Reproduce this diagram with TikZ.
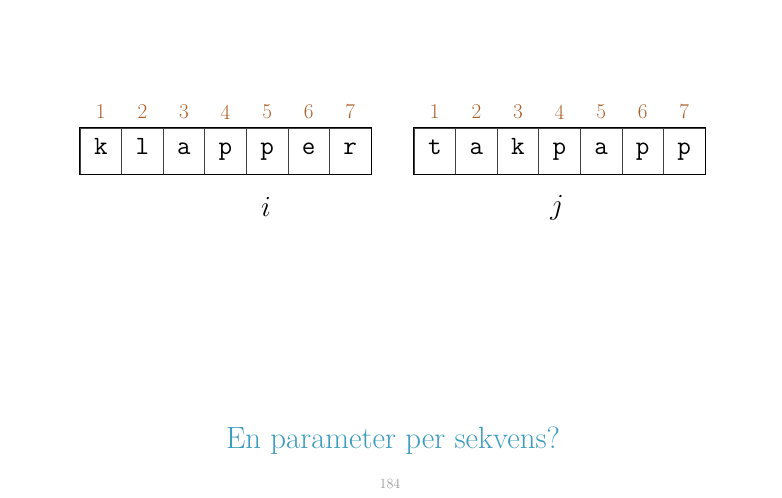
\documentclass[tikz,border=0pt]{standalone}
\usepackage{amsmath, amssymb}
\usepackage{tikz}
\definecolor{idxbrown}{HTML}{AD5F28}
\definecolor{titleteal}{HTML}{3B9DBE}
\definecolor{pagegray}{HTML}{9A9A9A}
\tikzstyle{cell}=[shape = rectangle, draw = black!75, line width = 0.5pt, minimum width = 1.247cm, minimum height = 1.38cm, inner sep = 0pt, text height = 0.74em, text depth = 0.22em, font = \fontsize{22.5}{26}\selectfont\ttfamily]
\tikzstyle{index}=[text = idxbrown, font = \fontsize{18}{20}\selectfont]
\tikzstyle{pointer}=[font = \fontsize{25}{30}\selectfont]

\begin{document}
\begin{tikzpicture}[x = 0.03cm, y = -0.03cm]
\useasboundingbox (0,0) rectangle (782,497);
% first sequence
\node[cell] (a1) at (100.8,151) {k};
\node[cell] (a2) at (142.4,151) {l};
\node[cell] (a3) at (183.9,151) {a};
\node[cell] (a4) at (225.5,151) {p};
\node[cell] (a5) at (267.1,151) {p};
\node[cell] (a6) at (308.6,151) {e};
\node[cell] (a7) at (350.2,151) {r};
\draw[line width = 1.1pt] (a1.north west) rectangle (a7.south east);
\node[index] (na1) at (100.8,112) {1};
\node[index] (na2) at (142.4,112) {2};
\node[index] (na3) at (183.9,112) {3};
\node[index] (na4) at (225.5,112) {4};
\node[index] (na5) at (267.1,112) {5};
\node[index] (na6) at (308.6,112) {6};
\node[index] (na7) at (350.2,112) {7};
\node[pointer] (pi) at (266,207) {$i$};
% second sequence
\node[cell] (b1) at (434.8,151) {t};
\node[cell] (b2) at (476.4,151) {a};
\node[cell] (b3) at (517.9,151) {k};
\node[cell] (b4) at (559.5,151) {p};
\node[cell] (b5) at (601.1,151) {a};
\node[cell] (b6) at (642.6,151) {p};
\node[cell] (b7) at (684.2,151) {p};
\draw[line width = 1.1pt] (b1.north west) rectangle (b7.south east);
\node[index] (nb1) at (434.8,112) {1};
\node[index] (nb2) at (476.4,112) {2};
\node[index] (nb3) at (517.9,112) {3};
\node[index] (nb4) at (559.5,112) {4};
\node[index] (nb5) at (601.1,112) {5};
\node[index] (nb6) at (642.6,112) {6};
\node[index] (nb7) at (684.2,112) {7};
\node[pointer] (pj) at (557,208) {$j$};
% caption
\node[text = titleteal, font = \fontsize{26.3}{31}\selectfont] (title) at (393,441) {En parameter per sekvens?};
\node[text = pagegray, font = \fontsize{12}{14}\selectfont] (page) at (390,484) {184};
\end{tikzpicture}
\end{document}
